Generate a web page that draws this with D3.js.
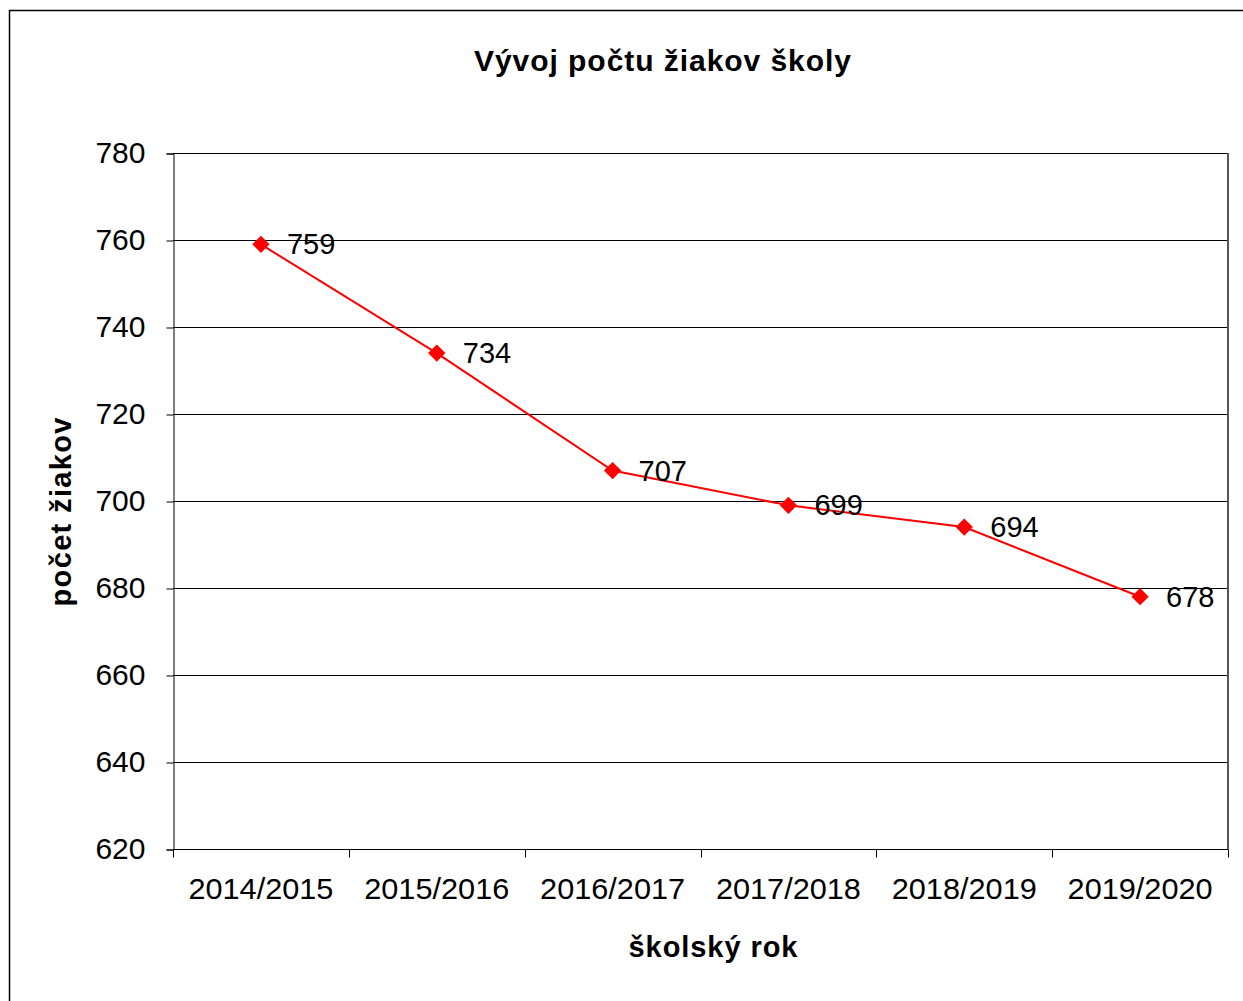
<!DOCTYPE html>
<html><head><meta charset="utf-8">
<script src="https://cdn.jsdelivr.net/npm/d3@7/dist/d3.min.js"></script>
<style>body{margin:0;background:#fff}svg{display:block}text{font-family:"Liberation Sans",Arial,sans-serif}</style>
</head><body>
<svg id="c" width="1243" height="1001"></svg>
<script>
const categories = ["2014/2015","2015/2016","2016/2017","2017/2018","2018/2019","2019/2020"];
const values = [759, 734, 707, 699, 694, 678];
const yTicks = [620,640,660,680,700,720,740,760,780];
const title = "Vývoj počtu žiakov školy";
const xTitle = "školský rok";
const yTitle = "počet žiakov";

const svg = d3.select("#c");
const L = 173, R = 1228, T = 153, B = 849;

// outer frame (extends beyond the window right/bottom)
svg.append("rect").attr("x",9.5).attr("y",10.5).attr("width",1300).attr("height",1100)
  .attr("fill","#fff").attr("stroke","#000").attr("stroke-width",1.5);

const x = d3.scaleBand().domain(categories).range([L,R]).padding(0);
const y = d3.scaleLinear().domain([620,780]).range([B,T]);

// gridlines
svg.append("g").selectAll("line").data(yTicks.slice(1)).join("line")
  .attr("x1",L).attr("x2",R).attr("y1",d=>Math.round(y(d))+0.5).attr("y2",d=>Math.round(y(d))+0.5)
  .attr("stroke","#000").attr("stroke-width",1);
// right border of plot
svg.append("line").attr("x1",R).attr("x2",R).attr("y1",T).attr("y2",B)
  .attr("stroke","#555").attr("stroke-width",2);

// y axis
const yAxis = d3.axisLeft(y).tickValues(yTicks).tickSize(7).tickPadding(21).tickFormat(d3.format("d"));
const gy = svg.append("g").attr("transform",`translate(${L+0.5},0.5)`).call(yAxis);
gy.select(".domain").attr("stroke","#000");
gy.selectAll(".tick line").attr("stroke","#000");
gy.selectAll("text").attr("font-size",30).attr("fill","#000").attr("font-family","Liberation Sans, Arial, sans-serif").attr("dy","0.3em");

// x axis
const gx = svg.append("g").attr("transform",`translate(0,${B+0.5})`);
gx.append("line").attr("x1",L).attr("x2",R).attr("stroke","#000");
const bounds = categories.map(c=>x(c)).concat([R]);
gx.selectAll("line.t").data(bounds).join("line").attr("class","t")
  .attr("x1",d=>Math.round(d)+0.5).attr("x2",d=>Math.round(d)+0.5).attr("y1",0).attr("y2",8).attr("stroke","#000");
gx.selectAll("text").data(categories).join("text")
  .attr("x",d=>x(d)+x.bandwidth()/2).attr("y",49).attr("text-anchor","middle")
  .attr("font-size",30).attr("fill","#000").attr("textLength",145).attr("lengthAdjust","spacingAndGlyphs").text(d=>d);

// line
const pts = categories.map((c,i)=>({c, v: values[i]}));
svg.append("path").datum(pts)
  .attr("d", d3.line().x(d=>x(d.c)+x.bandwidth()/2).y(d=>y(d.v)))
  .attr("fill","none").attr("stroke","#ff0000").attr("stroke-width",2);
// markers
svg.append("g").selectAll("path").data(pts).join("path")
  .attr("d", d3.symbol().type(d3.symbolSquare).size(150))
  .attr("transform", d=>`translate(${x(d.c)+x.bandwidth()/2},${y(d.v)}) rotate(45)`)
  .attr("fill","#ff0000");
// data labels
svg.append("g").selectAll("text").data(pts).join("text")
  .attr("x", d=>x(d.c)+x.bandwidth()/2+26).attr("y", d=>y(d.v)+10)
  .attr("font-size",29).attr("fill","#000").text(d=>d.v);

// titles
svg.append("text").attr("x",662.5).attr("y",71).attr("text-anchor","middle")
  .attr("font-size",30).attr("font-weight","bold").attr("textLength",377).attr("lengthAdjust","spacing").text(title);
svg.append("text").attr("x",713).attr("y",957).attr("text-anchor","middle")
  .attr("font-size",29).attr("font-weight","bold").attr("textLength",169).attr("lengthAdjust","spacing").text(xTitle);
svg.append("text").attr("transform","translate(71,512) rotate(-90)").attr("text-anchor","middle")
  .attr("font-size",29).attr("font-weight","bold").attr("textLength",189).attr("lengthAdjust","spacing").text(yTitle);
</script>
</body></html>
